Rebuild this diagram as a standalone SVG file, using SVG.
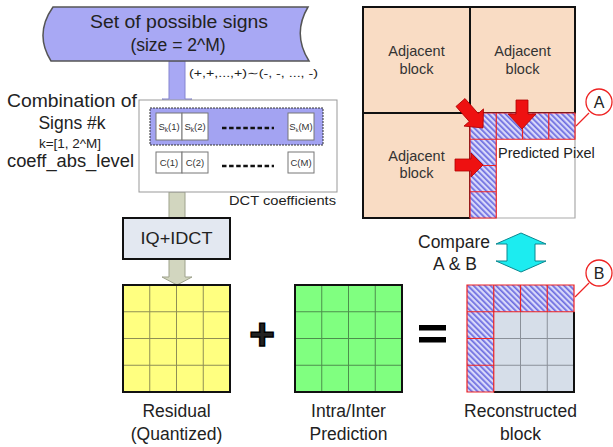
<svg xmlns="http://www.w3.org/2000/svg" width="613" height="447" viewBox="0 0 613 447">
  <defs>
    <pattern id="hatch" width="4" height="4" patternUnits="userSpaceOnUse" patternTransform="rotate(-45)">
      <rect width="4" height="4" fill="#d8d8fa"/>
      <rect width="1.7" height="4" fill="#6c6ce0"/>
    </pattern>
    <style>
      text { font-family: "Liberation Sans", Arial, sans-serif; fill: #222; }
      .lbl { font-size: 17.5px; text-anchor: middle; }
      .adj { font-size: 14.5px; text-anchor: middle; fill: #333; }
      .cell { fill: #fff; stroke: #777; stroke-width: 1; }
      .ctext { font-size: 9.5px; text-anchor: middle; fill: #333; }
      .dash { stroke: #111; stroke-width: 2.6; stroke-dasharray: 4.5 2.6; }
      .blk { stroke: #111; stroke-width: 2; fill: none; }
      .red { stroke: #ee2222; stroke-width: 1.2; fill: none; }
      .redarrow { fill: #ee1111; stroke: #b00000; stroke-width: 0.8; }
      .callout { fill: #fff; stroke: #ee2222; stroke-width: 1.3; }
      .grayarrow { fill: #d2d6bf; stroke: #9ea28c; stroke-width: 1; }
    </style>
  </defs>

  <!-- connectors -->
  <g id="connectors">
    <!-- sign set to combination -->
    <polygon points="169,61 185,61 185,99 192,99 177,108 162,99 169,99" fill="#a8a8f4" stroke="#8585d0" stroke-width="1"/>
    <!-- combination to IQ+IDCT -->
    <rect x="169" y="192" width="16" height="26" class="grayarrow"/>
    <!-- IQ+IDCT to residual -->
    <polygon points="169,259 185,259 185,277 192,277 177,285 162,277 169,277" class="grayarrow"/>
    <!-- compare double arrow -->
    <polygon points="521,233 546,244 535,244 535,261 546,261 521,272 496,261 507,261 507,244 496,244" fill="#1cecf0" stroke="#0b8890" stroke-width="1"/>
    <!-- callout leaders -->
    <line x1="589" y1="113" x2="576" y2="126" stroke="#ee2222" stroke-width="1.2"/>
    <line x1="589" y1="283" x2="575" y2="297" stroke="#ee2222" stroke-width="1.2"/>
  </g>

  <!-- set of possible signs -->
  <g id="sign-set">
    <path d="M53,7 L308,7 Q292,34 309,61 L51,61 Q34,34 53,7 Z" fill="#a8a8f4" stroke="#555" stroke-width="1.5"/>
    <text x="179" y="28" class="lbl" font-size="17.5" textLength="178" lengthAdjust="spacingAndGlyphs">Set of possible signs</text>
    <text x="178" y="51" class="lbl">(size = 2^M)</text>
    <text x="189" y="77" font-size="11" textLength="129" lengthAdjust="spacingAndGlyphs">(+,+,...,+)∼(-, -, ..., -)</text>
  </g>

  <!-- left-hand labels -->
  <g id="combination-labels">
    <text x="7" y="107" font-size="17.5" textLength="130" lengthAdjust="spacingAndGlyphs">Combination of</text>
    <text x="72" y="129" class="lbl">Signs #k</text>
    <text x="70" y="148" font-size="13.5" text-anchor="middle">k=[1, 2^M]</text>
    <text x="7" y="167" font-size="17.5" textLength="127" lengthAdjust="spacingAndGlyphs">coeff_abs_level</text>
  </g>

  <!-- sign / coefficient table -->
  <g id="coefficients">
    <rect x="139" y="100" width="198" height="92" fill="#fff" stroke="#999" stroke-width="1"/>
    <rect x="150" y="108" width="173" height="37" fill="#a3a3f2" stroke="#333" stroke-width="1" stroke-dasharray="2 1"/>
    <rect x="156" y="113" width="26" height="27" class="cell"/>
    <rect x="182" y="113" width="26" height="27" class="cell"/>
    <rect x="288" y="113" width="26" height="27" class="cell"/>
    <text x="169" y="130" class="ctext">S<tspan font-size="6.5" dy="2">k</tspan><tspan dy="-2">(1)</tspan></text>
    <text x="195" y="130" class="ctext">S<tspan font-size="6.5" dy="2">k</tspan><tspan dy="-2">(2)</tspan></text>
    <text x="301" y="130" class="ctext" font-size="8">S<tspan font-size="5.5" dy="2">k</tspan><tspan dy="-2">(M)</tspan></text>
    <line x1="222" y1="128" x2="274" y2="128" class="dash"/>
    <rect x="156" y="152" width="26" height="21" class="cell"/>
    <rect x="182" y="152" width="26" height="21" class="cell"/>
    <rect x="288" y="152" width="26" height="21" class="cell"/>
    <text x="169" y="166" class="ctext">C(1)</text>
    <text x="195" y="166" class="ctext">C(2)</text>
    <text x="301" y="166" class="ctext">C(M)</text>
    <line x1="222" y1="166" x2="274" y2="166" class="dash"/>
    <text x="229" y="205" font-size="13" textLength="107" lengthAdjust="spacingAndGlyphs" fill="#333">DCT coefficients</text>
  </g>

  <!-- inverse transform -->
  <g id="iq-idct">
    <rect x="123" y="218" width="107" height="41" fill="#e3e8f1" stroke="#111" stroke-width="2"/>
    <text x="176.5" y="244" font-size="16.5" text-anchor="middle" textLength="72" lengthAdjust="spacingAndGlyphs">IQ+IDCT</text>
  </g>

  <!-- residual block -->
  <g id="residual">
    <rect x="123" y="285" width="107" height="107" fill="#ffff80"/>
    <path d="M149.75,285V392M176.5,285V392M203.25,285V392M123,311.75H230M123,338.5H230M123,365.25H230" stroke="#8f8f55" stroke-width="1"/>
    <rect x="123" y="285" width="107" height="107" class="blk"/>
    <text x="176.5" y="417" class="lbl">Residual</text>
    <text x="176.5" y="440" class="lbl">(Quantized)</text>
  </g>

  <g id="plus">
    <text x="262" y="350" font-size="44" font-weight="bold" text-anchor="middle" fill="#000" stroke="#000" stroke-width="1.5">+</text>
  </g>

  <!-- prediction block -->
  <g id="prediction">
    <rect x="295" y="285" width="107" height="107" fill="#80ff80"/>
    <path d="M321.75,285V392M348.5,285V392M375.25,285V392M295,311.75H402M295,338.5H402M295,365.25H402" stroke="#4d8f4d" stroke-width="1"/>
    <rect x="295" y="285" width="107" height="107" class="blk"/>
    <text x="348.5" y="417" class="lbl">Intra/Inter</text>
    <text x="348.5" y="440" class="lbl">Prediction</text>
  </g>

  <g id="equals">
    <rect x="419" y="325" width="27" height="5.5" fill="#000"/>
    <rect x="419" y="337" width="27" height="5.5" fill="#000"/>
  </g>

  <!-- reconstructed block -->
  <g id="reconstructed">
    <rect x="467" y="285" width="107" height="107" fill="#d6dee9"/>
    <path d="M520.5,311.75V392M547.25,311.75V392M493.75,338.5H574M493.75,365.25H574" stroke="#8a9099" stroke-width="1"/>
    <rect x="467" y="285" width="107" height="26.75" fill="url(#hatch)"/>
    <rect x="467" y="311.75" width="26.75" height="80.25" fill="url(#hatch)"/>
    <path d="M574,311.75V392H493.75" class="blk"/>
    <path d="M467,285H574V311.75H493.75V392H467Z M493.75,285V311.75 M520.5,285V311.75 M547.25,285V311.75 M467,311.75H493.75 M467,338.5H493.75 M467,365.25H493.75" class="red"/>
    <text x="520.5" y="417" class="lbl">Reconstructed</text>
    <text x="520.5" y="440" class="lbl">block</text>
  </g>

  <g id="compare-label">
    <text x="454" y="248" class="lbl">Compare</text>
    <text x="455" y="270" class="lbl">A &amp; B</text>
  </g>

  <g id="callout-b">
    <circle cx="599" cy="273" r="13" class="callout"/>
    <text x="599" y="279" font-size="16" text-anchor="middle" fill="#111">B</text>
  </g>

  <!-- neighbourhood of the current block -->
  <g id="adjacent-top-left">
    <rect x="363" y="7" width="107" height="106" fill="#f9dcc4" stroke="#111" stroke-width="2"/>
    <text x="416.5" y="56" class="adj">Adjacent</text>
    <text x="416.5" y="74" class="adj">block</text>
  </g>
  <g id="adjacent-top-right">
    <rect x="470" y="7" width="105" height="106" fill="#f9dcc4" stroke="#111" stroke-width="2"/>
    <text x="522.5" y="56" class="adj">Adjacent</text>
    <text x="522.5" y="74" class="adj">block</text>
  </g>
  <g id="adjacent-left">
    <rect x="363" y="113" width="107" height="105" fill="#f9dcc4" stroke="#111" stroke-width="2"/>
    <text x="416.5" y="161" class="adj">Adjacent</text>
    <text x="416.5" y="178" class="adj">block</text>
  </g>

  <g id="current-block">
    <rect x="470" y="113" width="105" height="105" fill="#fff"/>
    <path d="M575,113V218H470" fill="none" stroke="#aaa" stroke-width="1.2"/>
    <rect x="470" y="113" width="105" height="26.25" fill="url(#hatch)"/>
    <rect x="470" y="139.25" width="26.25" height="78.75" fill="url(#hatch)"/>
    <path d="M470,113H575V139.25H496.25V218H470Z M496.25,113V139.25 M522.5,113V139.25 M548.75,113V139.25 M470,139.25H496.25 M470,165.5H496.25 M470,191.75H496.25" class="red"/>
    <text x="498" y="158" font-size="14.5" fill="#333">Predicted Pixel</text>
  </g>

  <g id="reference-arrows">
    <polygon points="516,100 528,100 528,114 536,114 522,129 508,114 516,114" class="redarrow"/>
    <polygon points="455,159 471,159 471,153 483,165 471,177 471,171 455,171" class="redarrow"/>
    <polygon points="0,-6 20,-6 20,-13 34,0 20,13 20,6 0,6" class="redarrow" transform="translate(460.5,102.5) rotate(48.6)"/>
  </g>

  <g id="callout-a">
    <circle cx="599" cy="102" r="13" class="callout"/>
    <text x="599" y="108" font-size="16" text-anchor="middle" fill="#111">A</text>
  </g>
</svg>
